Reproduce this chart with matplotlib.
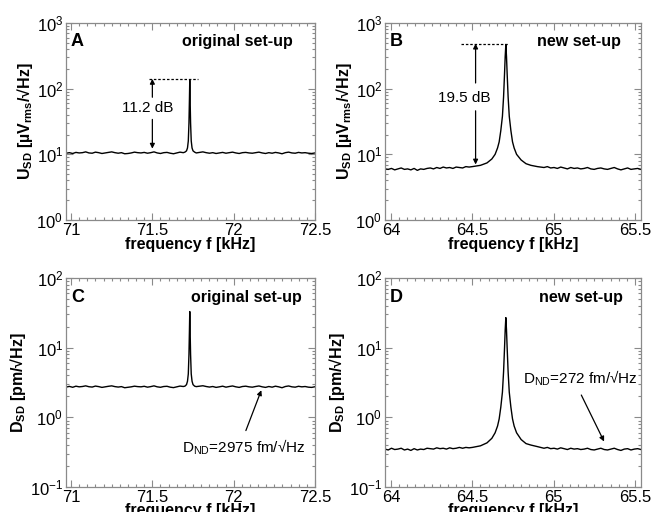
import numpy as np
import matplotlib
matplotlib.use("Agg")
import matplotlib.pyplot as plt
from matplotlib.ticker import MultipleLocator, LogLocator, NullFormatter

plt.rcParams['font.family'] = ['Liberation Sans', 'DejaVu Sans']
plt.rcParams['mathtext.fontset'] = 'custom'
plt.rcParams['mathtext.rm'] = 'Liberation Sans'
plt.rcParams['mathtext.it'] = 'Liberation Sans:italic'
plt.rcParams['mathtext.bf'] = 'Liberation Sans:bold'

# ---------------- data ----------------
# Panel A / C : original set-up, peak near 71.73 kHz
A_left = [10.4,10.6,10.3,10.7,10.5,10.6,10.9,10.5,10.4,10.8,10.6,10.3,10.5,10.7,10.9,10.6,10.4,10.6,10.2,
          10.3,10.5,10.8,10.6,10.5,10.7,10.4,10.6,10.9,10.5,10.3,10.6,10.7,10.4,10.2,10.5,10.8,10.6]
A_right = [10.5,10.7,10.9,10.6,10.4,10.6,10.3,10.5,10.7,10.4,10.6,10.8,10.5,10.3,10.6,10.7,10.5,10.4,10.6,
           10.8,10.5,10.3,10.6,10.4,10.7,10.5,10.2,10.6,10.8,10.5,10.4,10.7,10.5,10.6,10.4,10.3,10.5]
AC_peak_f = [71.70,71.71,71.716,71.721,71.725,71.728,71.730,71.732,71.735,71.739,71.744,71.75,71.76]
A_peak = [10.8,11.3,12.5,16,30,70,135,70,30,16,12.5,11.3,10.8]

C_left = [2.72,2.78,2.70,2.80,2.74,2.77,2.83,2.75,2.72,2.81,2.76,2.69,2.74,2.79,2.83,2.76,2.72,2.76,2.66,
          2.70,2.74,2.80,2.76,2.74,2.79,2.71,2.76,2.83,2.74,2.70,2.77,2.79,2.71,2.67,2.74,2.81,2.77]
C_right = [2.76,2.80,2.84,2.77,2.72,2.77,2.69,2.74,2.80,2.71,2.77,2.82,2.74,2.69,2.77,2.80,2.74,2.71,2.77,
           2.82,2.74,2.69,2.77,2.71,2.80,2.74,2.66,2.77,2.82,2.74,2.71,2.79,2.74,2.77,2.71,2.69,2.75]
C_peak = [2.8,2.95,3.3,4.2,8,18,33,18,8,4.2,3.3,2.95,2.8]

# Panel B / D : new set-up, peak near 64.706 kHz
B_left = [6.0,5.9,6.1,5.8,6.0,6.2,5.9,6.0,5.8,6.1,5.7,6.0,5.9,6.1,6.2,6.0,6.3,6.1,6.4,6.2,6.3,6.1,6.4,6.3,
          6.2,6.5,6.4]
B_right = [6.4,6.3,6.5,6.2,6.3,6.1,6.4,6.2,6.0,6.3,6.1,6.2,6.0,6.1,6.3,6.0,5.9,6.1,6.2,6.0,5.9,6.1,6.3,6.0,
           5.8,6.0,6.2,5.9,6.0,6.1,5.9]
BD_peak_f = [64.50,64.55,64.59,64.62,64.64,64.655,64.665,64.675,64.685,64.692,64.698,64.702,64.706,
             64.710,64.714,64.720,64.727,64.737,64.747,64.757,64.772,64.80,64.83,64.86,64.90]
B_peak = [6.5,6.8,7.4,8.5,10,12.5,15.5,23,38,75,170,310,470,310,170,75,38,23,15.5,12.5,10,8.2,7.2,6.8,6.5]

D_left = [0.35,0.34,0.36,0.345,0.35,0.36,0.34,0.35,0.335,0.355,0.34,0.35,0.345,0.36,0.355,0.35,0.365,0.355,
          0.36,0.35,0.365,0.355,0.36,0.37,0.36,0.37,0.365]
D_right = [0.37,0.36,0.37,0.355,0.36,0.35,0.365,0.355,0.345,0.36,0.35,0.355,0.345,0.35,0.36,0.345,0.34,0.35,
           0.36,0.345,0.34,0.35,0.36,0.345,0.335,0.35,0.355,0.34,0.35,0.355,0.345]
D_peak = [0.37,0.39,0.43,0.5,0.6,0.75,0.95,1.4,2.3,4.5,10,18,27,18,10,4.5,2.3,1.4,0.95,0.75,0.6,0.48,0.42,0.4,0.38]

orig_range = (70.969, 72.50)
new_range = (63.963, 65.537)
orig_ticks = [71, 71.5, 72, 72.5]
orig_ticklabels = ['71', '71.5', '72', '72.5']
new_ticks = [64, 64.5, 65, 65.5]
new_ticklabels = ['64', '64.5', '65', '65.5']


def trace(left, peak_f, peak_v, right, left_span, right_span):
    f = np.concatenate([np.linspace(left_span[0], left_span[1], len(left)), peak_f,
                        np.linspace(right_span[0], right_span[1], len(right))])
    v = np.concatenate([left, peak_v, right])
    return f, v


fA, vA = trace(A_left, AC_peak_f, A_peak, A_right, (70.97, 71.69), (71.77, 72.50))
fC, vC = trace(C_left, AC_peak_f, C_peak, C_right, (70.97, 71.69), (71.77, 72.50))
fB, vB = trace(B_left, BD_peak_f, B_peak, B_right, (63.963, 64.48), (64.92, 65.537))
fD, vD = trace(D_left, BD_peak_f, D_peak, D_right, (63.963, 64.48), (64.92, 65.537))

# ---------------- figure ----------------
fig = plt.figure(figsize=(6.53, 5.12), dpi=100)
W, H = 653, 512


def make_ax(l, r, t, b):
    return fig.add_axes([l / W, 1 - b / H, (r - l) / W, (b - t) / H])


axA = make_ax(66, 315, 23, 220)
axB = make_ax(385, 641, 23, 220)
axC = make_ax(66, 315, 278, 487)
axD = make_ax(385, 641, 278, 487)

grey = '#8a8a8a'
tick_fs = 12
lab_fs = 11.5


def style(ax, xr, ticks, ticklabels, ylim, ylabel, xpad):
    ax.set_yscale('log')
    ax.set_xlim(*xr)
    ax.set_ylim(*ylim)
    ax.set_xticks(ticks)
    ax.set_xticklabels(ticklabels)
    ax.xaxis.set_minor_locator(MultipleLocator(0.05))
    ax.yaxis.set_major_locator(LogLocator(base=10, numticks=10))
    ax.yaxis.set_minor_locator(LogLocator(base=10, subs=np.arange(2, 10), numticks=20))
    ax.yaxis.set_minor_formatter(NullFormatter())
    ax.tick_params(which='both', direction='in', top=True, right=True, colors=grey,
                   labelcolor='black', labelsize=tick_fs, width=0.8)
    ax.tick_params(which='major', length=5, pad=2)
    ax.tick_params(which='minor', length=2.5)
    for s in ax.spines.values():
        s.set_color(grey)
        s.set_linewidth(0.9)
    ax.set_xlabel('frequency f [kHz]', fontsize=lab_fs, fontweight='bold', labelpad=xpad)
    ax.set_ylabel(ylabel, fontsize=lab_fs, fontweight='bold', labelpad=1)


ylabU = r'U$_{\mathbf{SD}}$ [µV$_{\mathbf{rms}}$/√Hz]'
ylabD = r'D$_{\mathbf{SD}}$ [pm/√Hz]'

style(axA, orig_range, orig_ticks, orig_ticklabels, (1, 1000), ylabU, -0.5)
style(axB, new_range, new_ticks, new_ticklabels, (1, 1000), ylabU, -0.5)
style(axC, orig_range, orig_ticks, orig_ticklabels, (0.1, 100), ylabD, -1.0)
style(axD, new_range, new_ticks, new_ticklabels, (0.1, 100), ylabD, -1.0)

for ax, f, v in [(axA, fA, vA), (axB, fB, vB), (axC, fC, vC), (axD, fD, vD)]:
    ax.plot(f, v, color='black', lw=1.0)

# panel letters and titles
for ax, letter, title, tx in [(axA, 'A', 'original set-up', 0.91), (axB, 'B', 'new set-up', 0.92),
                              (axC, 'C', 'original set-up', 0.945), (axD, 'D', 'new set-up', 0.93)]:
    ax.text(0.02, 0.905, letter, transform=ax.transAxes, fontsize=13, fontweight='bold',
            ha='left', va='center')
    ax.text(tx, 0.905, title, transform=ax.transAxes, fontsize=lab_fs, fontweight='bold',
            ha='right', va='center')

arrow = dict(arrowstyle='-|>', color='black', lw=0.9, mutation_scale=7, shrinkA=0, shrinkB=0)

# A: 11.2 dB
axA.plot([71.48, 71.78], [141, 141], color='black', lw=0.9, ls=(0, (2, 1.5)))
axA.text(71.47, 51, '11.2 dB', fontsize=11, ha='center', va='center')
axA.annotate('', xy=(71.50, 141), xytext=(71.50, 74), arrowprops=arrow)
axA.annotate('', xy=(71.50, 12.2), xytext=(71.50, 34), arrowprops=arrow)

# B: 19.5 dB
axB.plot([64.43, 64.72], [485, 485], color='black', lw=0.9, ls=(0, (2, 1.5)))
axB.text(64.45, 73, '19.5 dB', fontsize=11, ha='center', va='center')
axB.annotate('', xy=(64.52, 485), xytext=(64.52, 122), arrowprops=arrow)
axB.annotate('', xy=(64.52, 7.0), xytext=(64.52, 46), arrowprops=arrow)

# C, D noise density annotations
axC.text(71.682, 0.19, r'D$_{\mathrm{ND}}$=2975 fm/√Hz', fontsize=11, ha='left', va='center',
         transform=axC.get_xaxis_transform())
axC.annotate('', xy=(72.17, 2.45), xytext=(72.075, 0.27), xycoords=('data', 'data'),
             textcoords=('data', 'axes fraction'), arrowprops=arrow)

axD.text(64.811, 0.52, r'D$_{\mathrm{ND}}$=272 fm/√Hz', fontsize=11, ha='left', va='center',
         transform=axD.get_xaxis_transform())
axD.annotate('', xy=(65.31, 0.45), xytext=(65.17, 0.44), xycoords=('data', 'data'),
             textcoords=('data', 'axes fraction'), arrowprops=arrow)

fig.savefig('out.png', dpi=100)
